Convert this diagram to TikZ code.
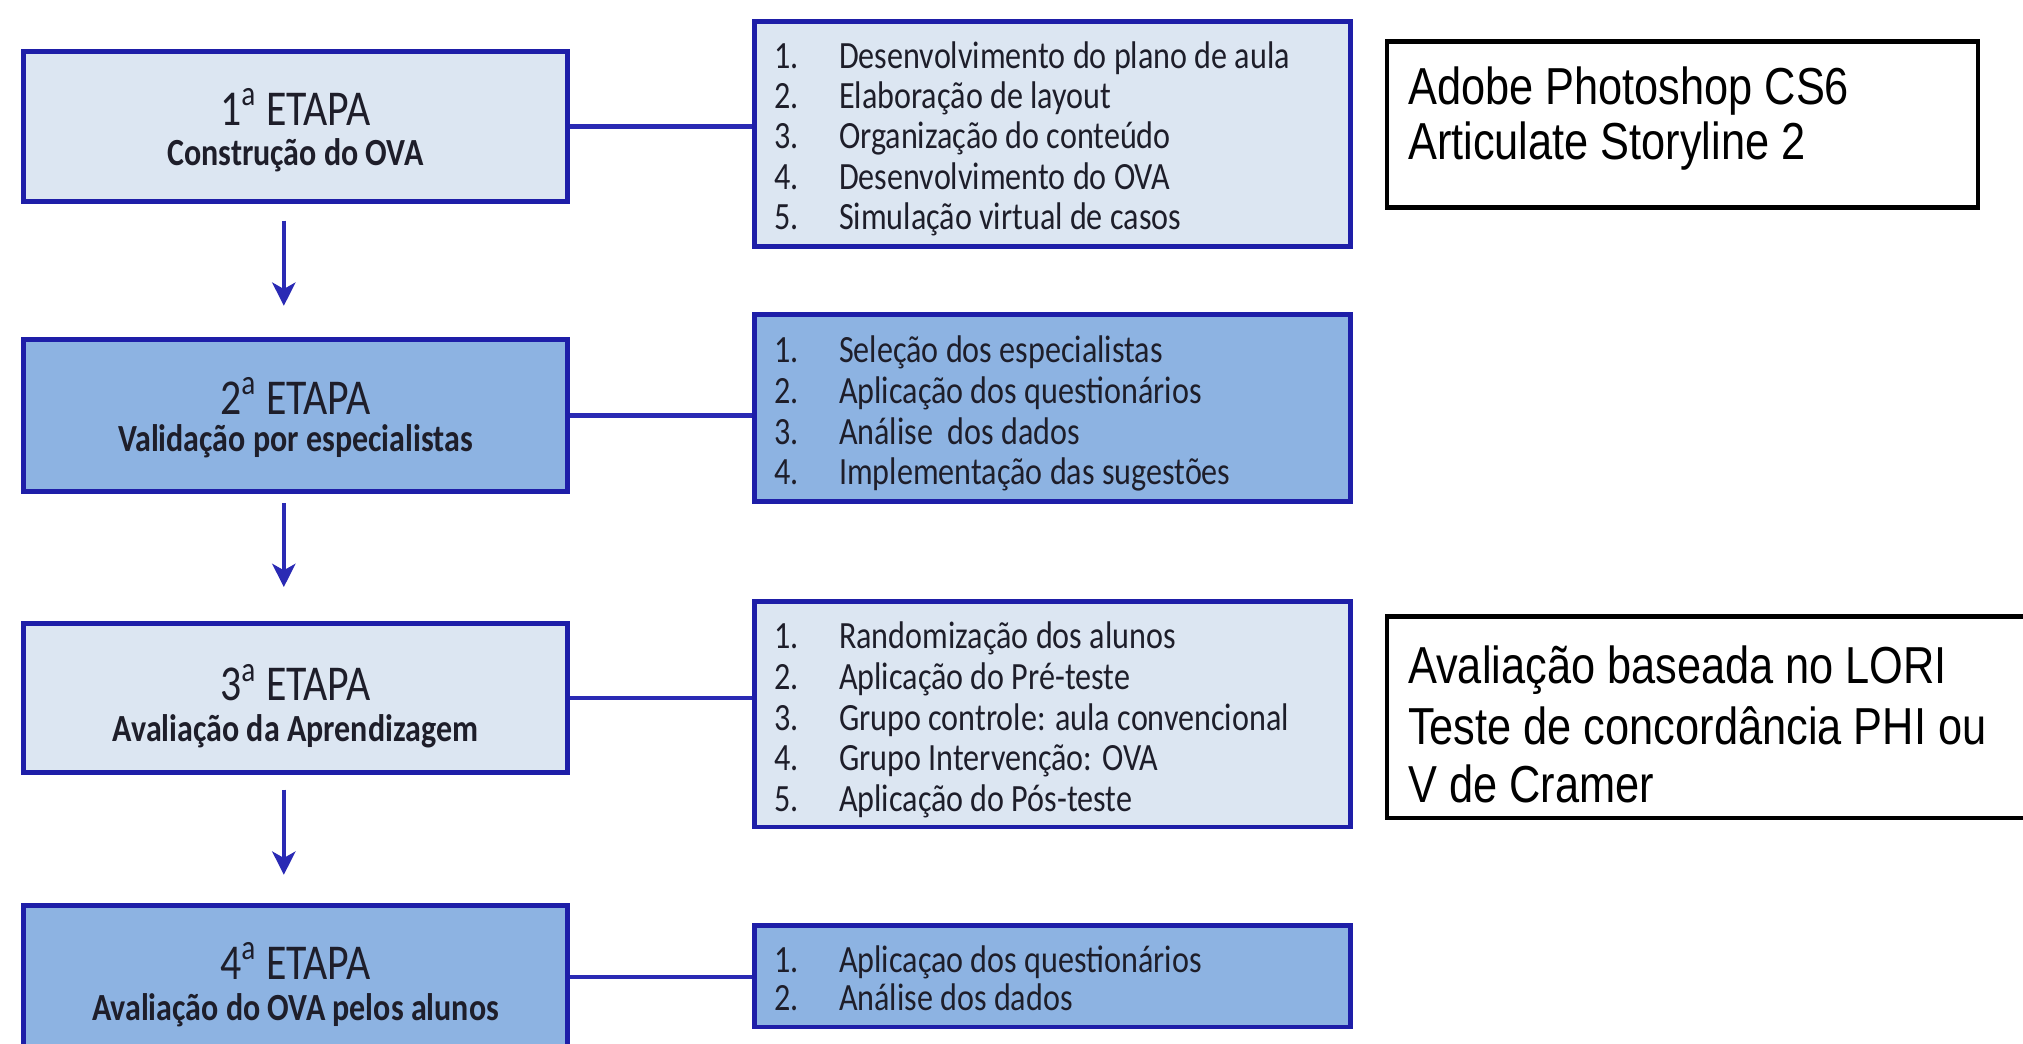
\documentclass[tikz,border=0pt]{standalone}
\usepackage{fontspec}
\usepackage{graphicx}
\newfontfamily\calfont{Carlito}
\newfontfamily\arfont{Liberation Sans}
\usetikzlibrary{arrows.meta}
\definecolor{lightfill}{HTML}{DCE6F2}
\definecolor{darkfill}{HTML}{8DB3E2}
\definecolor{bordercol}{HTML}{1E1EA8}
\definecolor{linecol}{HTML}{2A2AB4}
\definecolor{txtcol}{HTML}{1E1E2A}
\newcommand{\vstr}[1]{\scalebox{1}[1.2]{#1}}
\begin{document}
\begin{tikzpicture}[x=0.5pt,y=-0.5pt,
  stagebox/.style={draw=bordercol, line width=1.9pt, minimum width=211pt, inner sep=0},
  listbox/.style={draw=bordercol, line width=1.9pt, minimum width=231pt, inner sep=0},
  notebox/.style={draw=black, line width=1.8pt, fill=white, inner sep=0},
  headtxt/.style={anchor=base, inner sep=0, text=txtcol, font=\calfont\fontsize{16.2}{19}\selectfont},
  subtxt/.style={anchor=base, inner sep=0, text=txtcol, font=\calfont\bfseries\fontsize{12.4}{15}\selectfont},
  itemtxt/.style={anchor=base west, inner sep=0, text=txtcol, font=\calfont\fontsize{12.45}{15}\selectfont},
  notetxt/.style={anchor=base west, inner sep=0, text=black, font=\arfont\fontsize{16.8}{20}\selectfont},
  link/.style={draw=linecol, line width=1.6pt},
  flow/.style={draw=linecol, line width=1.5pt, -{Stealth[length=9pt,width=9pt,inset=2.5pt]}}
]
\path[use as bounding box, fill=white] (0,0) rectangle (1568,809);
\clip (0,0) rectangle (1568,809);

% stage boxes
\node[stagebox, fill=lightfill, minimum height=58pt] (b1) at (229,98) {};
\node[stagebox, fill=darkfill, minimum height=59pt] (b2) at (229,322) {};
\node[stagebox, fill=lightfill, minimum height=58pt] (b3) at (229,541) {};
\node[stagebox, fill=darkfill, minimum height=55pt] (b4) at (229,757) {};

\node[headtxt] (t1h) at (229,97) {\vstr{1\textsuperscript{a} ETAPA}};
\node[subtxt] (t1s) at (229,128) {\vstr{Construção do OVA}};
\node[headtxt] (t2h) at (229,321) {\vstr{2\textsuperscript{a} ETAPA}};
\node[subtxt] (t2s) at (229,350) {\vstr{Validação por especialistas}};
\node[headtxt] (t3h) at (229,543) {\vstr{3\textsuperscript{a} ETAPA}};
\node[subtxt] (t3s) at (229,575) {\vstr{Avaliação da Aprendizagem}};
\node[headtxt] (t4h) at (229,759) {\vstr{4\textsuperscript{a} ETAPA}};
\node[subtxt] (t4s) at (229,791) {\vstr{Avaliação do OVA pelos alunos}};

% list boxes
\node[listbox, fill=lightfill, minimum height=87pt] (l1) at (816,104) {};
\node[listbox, fill=darkfill, minimum height=72.5pt] (l2) at (816,316.5) {};
\node[listbox, fill=lightfill, minimum height=87.5pt] (l3) at (816,553.5) {};
\node[listbox, fill=darkfill, minimum height=39.5pt] (l4) at (816,756.5) {};

\foreach \t [count=\i] in {Desenvolvimento do plano de aula, Elaboração de layout, Organização do conteúdo, Desenvolvimento do OVA, Simulação virtual de casos}
  \node[itemtxt] (l1i\i) at (600,{53+31.2*(\i-1)}) {\vstr{\makebox[25pt][l]{\i.}\t}};
\foreach \t [count=\i] in {Seleção dos especialistas, Aplicação dos questionários, Análise\ \ dos dados, Implementação das sugestões}
  \node[itemtxt] (l2i\i) at (600,{281+31.6*(\i-1)}) {\vstr{\makebox[25pt][l]{\i.}\t}};
\foreach \t [count=\i] in {Randomização dos alunos, Aplicação do Pré-teste, Grupo controle: aula convencional, Grupo Intervenção: OVA, Aplicação do Pós-teste}
  \node[itemtxt] (l3i\i) at (600,{503+31.5*(\i-1)}) {\vstr{\makebox[25pt][l]{\i.}\t}};
\foreach \t [count=\i] in {Aplicaçao dos questionários, Análise dos dados}
  \node[itemtxt] (l4i\i) at (600,{754+29*(\i-1)}) {\vstr{\makebox[25pt][l]{\i.}\t}};

% connectors
\draw[link] (b1.east) -- (b1.east -| l1.west);
\draw[link] (b2.east) -- (b2.east -| l2.west);
\draw[link] (b3.east) -- (b3.east -| l3.west);
\draw[link] (b4.east) -- (b4.east -| l4.west);

% arrows
\coordinate (a1s) at (220,171); \coordinate (a1e) at (220,237);
\coordinate (a2s) at (220,390); \coordinate (a2e) at (220,455);
\coordinate (a3s) at (220,612); \coordinate (a3e) at (220,678);
\draw[flow] (a1s) -- (a1e);
\draw[flow] (a2s) -- (a2e);
\draw[flow] (a3s) -- (a3e);

% note boxes
\node[notebox, minimum width=229pt, minimum height=64.5pt] (nA) at (1304,96.5) {};
\node[notetxt] (nA1) at (1091,81) {\vstr{Adobe Photoshop CS6}};
\node[notetxt] (nA2) at (1091,124) {\vstr{Articulate Storyline 2}};

\node[notebox, minimum width=255pt, minimum height=78pt] (nB) at (1330,556) {};
\node[notetxt] (nB1) at (1091,530) {\vstr{Avaliação baseada no LORI}};
\node[notetxt] (nB2) at (1091,577) {\vstr{Teste de concordância PHI ou}};
\node[notetxt] (nB3) at (1091,622) {\vstr{V de Cramer}};
\end{tikzpicture}
\end{document}
